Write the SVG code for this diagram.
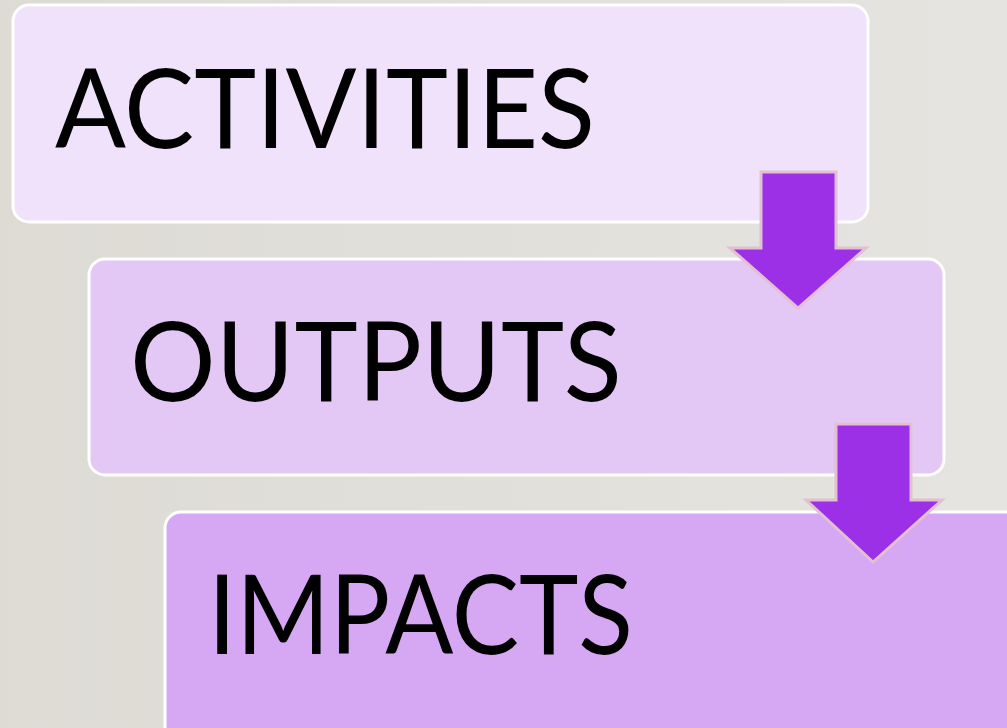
<svg xmlns="http://www.w3.org/2000/svg" width="1007" height="728" viewBox="0 0 1007 728">
<defs>
<linearGradient id="bg" x1="0" y1="0" x2="1" y2="0">
<stop offset="0" stop-color="#dddbd4"/>
<stop offset="1" stop-color="#e6e4e0"/>
</linearGradient>
<style>
.box{stroke:#ffffff;stroke-width:3}
.lbl{font-family:"Lato","Liberation Sans",sans-serif;font-size:110px;fill:#000000}
.arr{fill:#9b30e6;stroke:#e2bfd2;stroke-width:3;stroke-linejoin:miter}
</style>
</defs>
<rect x="0" y="0" width="1007" height="728" fill="url(#bg)"/>
<g id="node-activities">
<rect class="box" x="13" y="5" width="855" height="217" rx="16" fill="#f0e2fb"/>
<text class="lbl" x="55" y="148" textLength="540" lengthAdjust="spacingAndGlyphs">ACTIVITIES</text>
</g>
<g id="node-outputs">
<rect class="box" x="89" y="259" width="855" height="216" rx="16" fill="#e3c8f6"/>
<text class="lbl" x="130" y="401" textLength="492" lengthAdjust="spacingAndGlyphs">OUTPUTS</text>
</g>
<g id="node-impacts">
<rect class="box" x="165" y="512" width="860" height="230" rx="16" fill="#d6a8f3"/>
<text class="lbl" x="208" y="654" textLength="425" lengthAdjust="spacingAndGlyphs">IMPACTS</text>
</g>
<g id="connectors">
<polygon class="arr" points="761,172 836,172 836,248 866,248 798,308 730,248 761,248"/>
<polygon class="arr" points="836,424 911,424 911,500 942,500 873,562 806,500 836,500"/>
</g>
</svg>
